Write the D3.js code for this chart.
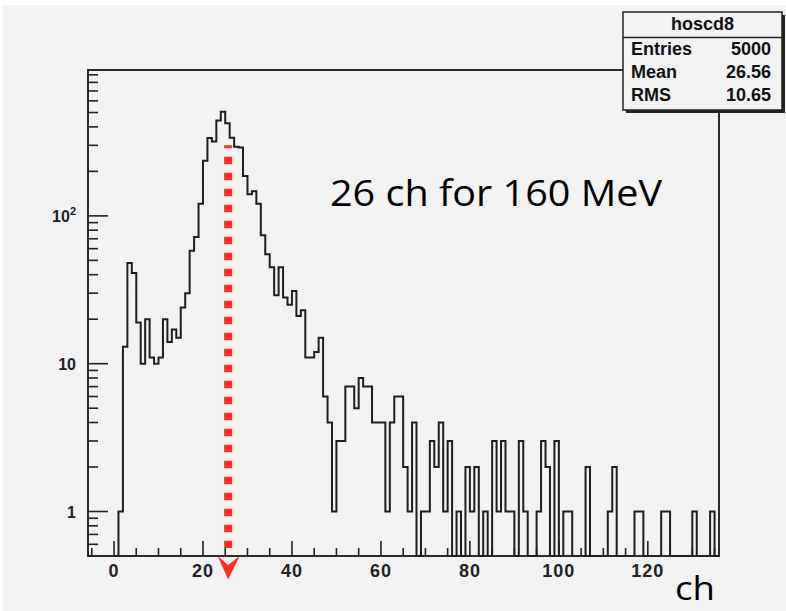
<!DOCTYPE html>
<html>
<head>
<meta charset="utf-8">
<script src="https://cdn.jsdelivr.net/npm/d3@7"></script>
<style>
  body { margin: 0; background: #ffffff; }
  svg { display: block; }
</style>
</head>
<body>
<div id="chart"></div>
<script>
// histogram contents, one count per channel starting at channel 0
var firstChannel = 0;
var binCounts = [
  0, 1, 13, 48, 41, 19, 10, 20, 11, 10,        // 0-9
  11, 20, 14, 17, 15, 24, 30, 58, 72, 121,     // 10-19
  236, 336, 318, 441, 507, 423, 338, 294, 290, 186, // 20-29
  140, 147, 121, 74, 55, 45, 29, 45, 28, 25,   // 30-39
  31, 21, 23, 11, 11, 12, 15, 6, 4, 1,         // 40-49
  3, 3, 7, 7, 5, 8, 7, 7, 4, 4,                // 50-59
  4, 1, 4, 6, 6, 2, 1, 4, 0, 1,                // 60-69
  1, 3, 2, 4, 1, 3, 0, 1, 0, 2,                // 70-79
  1, 2, 0, 1, 0, 3, 1, 3, 1, 1,                // 80-89
  0, 3, 1, 0, 0, 1, 3, 2, 0, 3,                // 90-99
  0, 1, 1, 0, 0, 0, 2, 0, 0, 0,                // 100-109
  0, 1, 2, 0, 0, 0, 0, 1, 1, 0,                // 110-119
  0, 0, 0, 1, 1, 0, 0, 0, 0, 0,                // 120-129
  1, 0, 0, 0, 1, 0                             // 130-135
];

var xTickValues = [0, 20, 40, 60, 80, 100, 120];
var yTickValues = [1, 10, 100];
var yTickLabels = [["1", ""], ["10", ""], ["10", "2"]];

var histName = "hoscd8";
var statLabels = ["Entries", "Mean", "RMS"];
var statValues = ["5000", "26.56", "10.65"];

var noteText = "26 ch for 160 MeV";
var unitText = "ch";
var arrowChannel = 25.65;

var W = 786, H = 611;
var frame = { left: 88, right: 719, top: 70, bottom: 556 };

var svg = d3.select("#chart").append("svg")
    .attr("width", W)
    .attr("height", H);

// slide background
svg.append("rect").attr("x", 0).attr("y", 0).attr("width", W).attr("height", H).attr("fill", "#ffffff");
svg.append("rect").attr("x", 3).attr("y", 5).attr("width", W - 3).attr("height", H - 5).attr("fill", "#f2f2f2");

var x = d3.scaleLinear().domain([-5.85, 136]).range([frame.left, frame.right]);
var y = d3.scaleLog().domain([0.5, 970]).range([frame.bottom, frame.top]);

var axisFont = "'Liberation Sans', Arial, sans-serif";

// frame
svg.append("rect")
    .attr("x", frame.left).attr("y", frame.top)
    .attr("width", frame.right - frame.left).attr("height", frame.bottom - frame.top)
    .attr("fill", "none").attr("stroke", "#2a2a2a").attr("stroke-width", 2);

// x ticks (inside, pointing up)
var xMinor = d3.range(-5, 136, 5);
svg.append("g").selectAll("line")
    .data(xMinor)
    .enter().append("line")
    .attr("x1", function(d) { return x(d); })
    .attr("x2", function(d) { return x(d); })
    .attr("y1", frame.bottom)
    .attr("y2", function(d) { return frame.bottom - (d % 20 === 0 ? 15 : 8); })
    .attr("stroke", "#222").attr("stroke-width", 1.6);

svg.append("g").selectAll("text")
    .data(xTickValues)
    .enter().append("text")
    .attr("x", function(d) { return x(d); })
    .attr("y", 577)
    .attr("text-anchor", "middle")
    .attr("font-family", axisFont)
    .attr("font-weight", "bold")
    .attr("font-size", 18)
    .attr("letter-spacing", 1)
    .attr("fill", "#222")
    .text(function(d) { return d; });

// y ticks (log), major at decades
var yAll = y.ticks();
svg.append("g").selectAll("line")
    .data(yAll)
    .enter().append("line")
    .attr("x1", frame.left)
    .attr("x2", function(d) { return frame.left + (yTickValues.indexOf(d) >= 0 ? 20 : 10); })
    .attr("y1", function(d) { return y(d); })
    .attr("y2", function(d) { return y(d); })
    .attr("stroke", "#222").attr("stroke-width", 1.6);

var yLab = svg.append("g").selectAll("text")
    .data(yTickValues)
    .enter().append("text")
    .attr("x", 76)
    .attr("y", function(d) { return y(d) + 6; })
    .attr("text-anchor", "end")
    .attr("font-family", axisFont)
    .attr("font-weight", "bold")
    .attr("font-size", 16)
    .attr("fill", "#222");
yLab.append("tspan").text(function(d, i) { return yTickLabels[i][0]; });
yLab.append("tspan")
    .attr("dy", -7)
    .attr("font-size", 11)
    .text(function(d, i) { return yTickLabels[i][1]; });

// histogram outline
var steps = binCounts.map(function(c, i) { return [firstChannel + i, c]; });
steps.push([firstChannel + binCounts.length, binCounts[binCounts.length - 1]]);

var line = d3.line()
    .x(function(d) { return x(d[0]); })
    .y(function(d) { return d[1] > 0 ? y(d[1]) : frame.bottom; })
    .curve(d3.curveStepAfter);

svg.append("path")
    .datum(steps)
    .attr("d", line)
    .attr("fill", "none")
    .attr("stroke", "#1e1e1e")
    .attr("stroke-width", 2);

// red dashed arrow
var ax = x(arrowChannel);
svg.append("line")
    .attr("x1", ax).attr("x2", ax)
    .attr("y1", 145.3).attr("y2", 548)
    .attr("stroke", "#ff2d1f")
    .attr("stroke-width", 8)
    .attr("stroke-dasharray", "7.5 8.5")
    .attr("stroke-dashoffset", 4.5);
svg.append("path")
    .attr("d", "M" + (ax - 10.5) + ",556 L" + ax + ",565 L" + (ax + 11.5) + ",556 L" + ax + ",579.5 Z")
    .attr("fill", "#ff2d1f");

// annotation text
svg.append("text")
    .attr("x", 330).attr("y", 206)
    .attr("font-family", "'Open Sans', 'Noto Sans', sans-serif")
    .attr("font-size", 36)
    .attr("textLength", 332)
    .attr("lengthAdjust", "spacingAndGlyphs")
    .attr("fill", "#000")
    .text(noteText);

svg.append("text")
    .attr("x", 675).attr("y", 600)
    .attr("font-family", "'Open Sans', 'Noto Sans', sans-serif")
    .attr("font-size", 32)
    .attr("textLength", 40)
    .attr("lengthAdjust", "spacingAndGlyphs")
    .attr("fill", "#000")
    .text(unitText);

// stats box
var box = { x: 623, y: 12, w: 159, h: 98 };
svg.append("rect")
    .attr("x", box.x + 3).attr("y", box.y + 3)
    .attr("width", box.w).attr("height", box.h)
    .attr("fill", "#222");
svg.append("rect")
    .attr("x", box.x).attr("y", box.y)
    .attr("width", box.w).attr("height", box.h)
    .attr("fill", "#f2f2f2").attr("stroke", "#222").attr("stroke-width", 1.5);
svg.append("line")
    .attr("x1", box.x).attr("x2", box.x + box.w)
    .attr("y1", 37.5).attr("y2", 37.5)
    .attr("stroke", "#222").attr("stroke-width", 1.5);

svg.append("text")
    .attr("x", box.x + box.w / 2).attr("y", 30)
    .attr("text-anchor", "middle")
    .attr("font-family", axisFont).attr("font-weight", "bold").attr("font-size", 18)
    .attr("fill", "#111")
    .text(histName);

var rowY = [55, 78, 101];
svg.append("g").selectAll("text")
    .data(statLabels)
    .enter().append("text")
    .attr("x", 631)
    .attr("y", function(d, i) { return rowY[i]; })
    .attr("font-family", axisFont).attr("font-weight", "bold").attr("font-size", 18)
    .attr("fill", "#111")
    .text(function(d) { return d; });
svg.append("g").selectAll("text")
    .data(statValues)
    .enter().append("text")
    .attr("x", 771)
    .attr("y", function(d, i) { return rowY[i]; })
    .attr("text-anchor", "end")
    .attr("font-family", axisFont).attr("font-weight", "bold").attr("font-size", 18)
    .attr("fill", "#111")
    .text(function(d) { return d; });
</script>
</body>
</html>
